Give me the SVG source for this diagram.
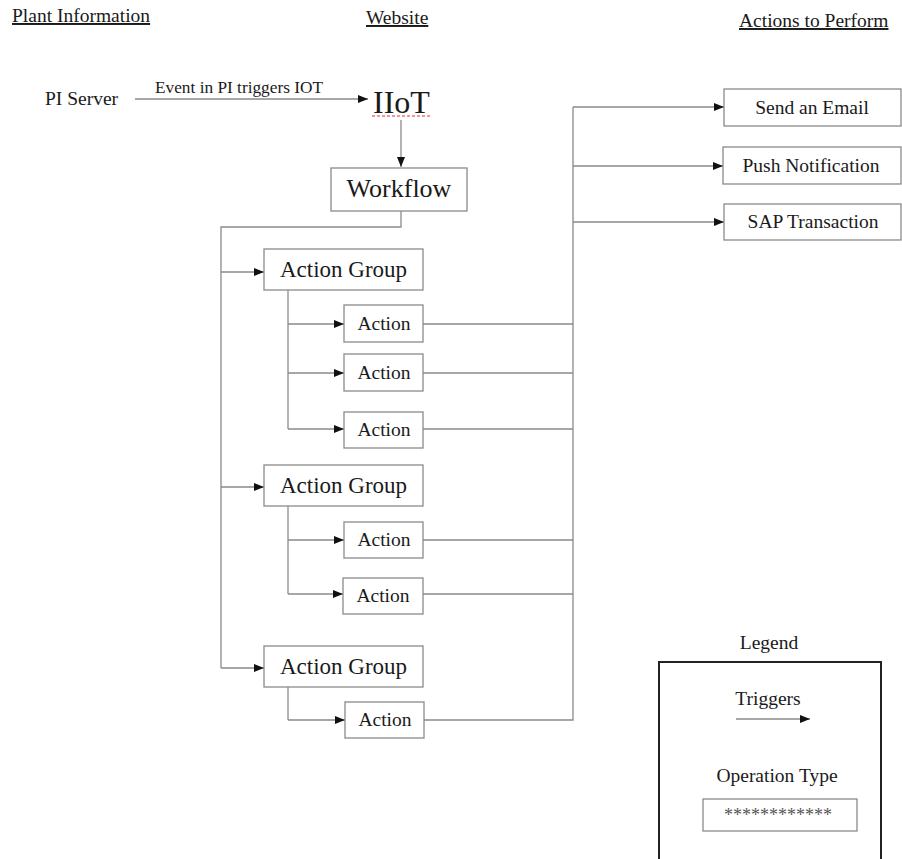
<svg xmlns="http://www.w3.org/2000/svg" width="902" height="859" viewBox="0 0 902 859" font-family="'Liberation Serif', 'Times New Roman', Times, 'DejaVu Serif', serif">
<defs>
<marker id="arr" markerWidth="10" markerHeight="8" refX="10" refY="4" orient="auto" markerUnits="userSpaceOnUse">
<path d="M0,0 L10,4 L0,8 Z" fill="#111"/>
</marker>
<style>
text{font-family:'Liberation Serif','Times New Roman',Times,'DejaVu Serif',serif;fill:#1a1a1a}
.t{font-size:19.5px}
.m{text-anchor:middle}
.u{text-decoration:underline}
.box{fill:#fff;stroke:#8a8a8a;stroke-width:1.3}
.ln{fill:none;stroke:#8a8a8a;stroke-width:1.3}
.a{marker-end:url(#arr)}
</style>
</defs>
<rect width="902" height="859" fill="#fff"/>
<g id="headers">
<text class="t u" x="12" y="22">Plant Information</text>
<text class="t u" x="366" y="24">Website</text>
<text class="t u" x="739" y="27">Actions to Perform</text>
</g>
<g id="connectors">
<line class="ln a" x1="135" y1="99" x2="368" y2="99"/>
<line class="ln a" x1="401" y1="120" x2="401" y2="167"/>
<polyline class="ln" points="401,211 401,227 221,227 221,668"/>
<line class="ln a" x1="221" y1="272" x2="264" y2="272"/>
<line class="ln a" x1="221" y1="487" x2="264" y2="487"/>
<line class="ln a" x1="221" y1="668" x2="264" y2="668"/>
<polyline class="ln" points="288,290 288,429"/>
<line class="ln a" x1="288" y1="324" x2="344" y2="324"/>
<line class="ln a" x1="288" y1="373" x2="344" y2="373"/>
<line class="ln a" x1="288" y1="429" x2="344" y2="429"/>
<polyline class="ln" points="288,506 288,594"/>
<line class="ln a" x1="288" y1="540" x2="344" y2="540"/>
<line class="ln a" x1="288" y1="594" x2="343" y2="594"/>
<polyline class="ln" points="288,687 288,720"/>
<line class="ln a" x1="288" y1="720" x2="345" y2="720"/>
<line class="ln" x1="423" y1="324" x2="573" y2="324"/>
<line class="ln" x1="423" y1="373" x2="573" y2="373"/>
<line class="ln" x1="423" y1="429" x2="573" y2="429"/>
<line class="ln" x1="423" y1="540" x2="573" y2="540"/>
<line class="ln" x1="423" y1="594" x2="573" y2="594"/>
<polyline class="ln" points="424,720 573,720 573,107"/>
<line class="ln a" x1="573" y1="107" x2="724" y2="107"/>
<line class="ln a" x1="573" y1="166" x2="723" y2="166"/>
<line class="ln a" x1="573" y1="222" x2="724" y2="222"/>
<text x="155" y="93" style="font-size:17.3px">Event in PI triggers IOT</text>
</g>
<g id="pi-server"><text class="t" x="45" y="105">PI Server</text></g>
<g id="iiot">
<text x="373" y="113" style="font-size:32px">IIoT</text>
<line x1="372" y1="116" x2="431" y2="116" stroke="#e03030" stroke-width="1" stroke-dasharray="3,2"/>
</g>
<g id="workflow"><rect class="box" x="331" y="168" width="136" height="43"/><text class="m" x="399" y="197" style="font-size:26px">Workflow</text></g>
<g id="ag1"><rect class="box" x="264" y="249" width="159" height="41"/><text class="m" x="343.5" y="277" style="font-size:23px">Action Group</text></g>
<g id="a11"><rect class="box" x="344" y="305" width="79" height="37"/><text class="t m" x="384" y="330">Action</text></g>
<g id="a12"><rect class="box" x="344" y="354" width="79" height="37"/><text class="t m" x="384" y="379">Action</text></g>
<g id="a13"><rect class="box" x="344" y="412" width="79" height="36"/><text class="t m" x="384" y="436">Action</text></g>
<g id="ag2"><rect class="box" x="264" y="465" width="159" height="41"/><text class="m" x="343.5" y="493" style="font-size:23px">Action Group</text></g>
<g id="a21"><rect class="box" x="344" y="522" width="79" height="36"/><text class="t m" x="384" y="546">Action</text></g>
<g id="a22"><rect class="box" x="343" y="578" width="80" height="36"/><text class="t m" x="383" y="602">Action</text></g>
<g id="ag3"><rect class="box" x="264" y="646" width="159" height="41"/><text class="m" x="343.5" y="674" style="font-size:23px">Action Group</text></g>
<g id="a31"><rect class="box" x="345" y="702" width="79" height="36"/><text class="t m" x="385" y="726">Action</text></g>
<g id="email"><rect class="box" x="724" y="89" width="177" height="37"/><text class="t m" x="812" y="114">Send an Email</text></g>
<g id="push"><rect class="box" x="723" y="147" width="178" height="37"/><text class="t m" x="811" y="172">Push Notification</text></g>
<g id="sap"><rect class="box" x="724" y="204" width="177" height="36"/><text class="t m" x="813" y="228">SAP Transaction</text></g>
<g id="legend">
<text class="t m" x="769" y="649">Legend</text>
<polyline points="659,859 659,662 881,662 881,859" fill="none" stroke="#222" stroke-width="2"/>
<text class="t m" x="768" y="705">Triggers</text>
<line class="ln a" x1="736" y1="719" x2="810" y2="719"/>
<text class="t m" x="777" y="782">Operation Type</text>
<rect class="box" x="703" y="799" width="154" height="32"/>
<text class="m" x="778" y="821" style="font-size:18px;fill:#555">************</text>
</g>
</svg>
